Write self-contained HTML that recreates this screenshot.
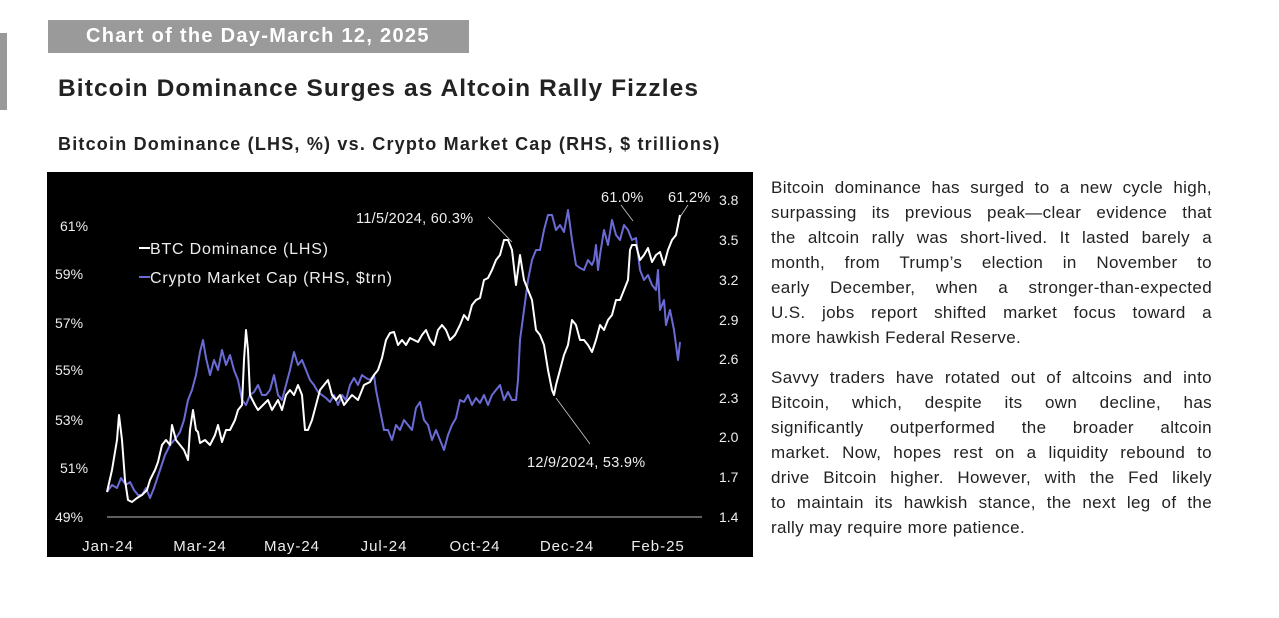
<!DOCTYPE html>
<html><head><meta charset="utf-8"><style>
body{margin:0;width:1279px;height:618px;background:#fff;position:relative;overflow:hidden;font-family:"Liberation Sans",sans-serif;}
.a{position:absolute;}
.tx div{height:25px;line-height:25px;text-align:justify;text-align-last:justify;white-space:nowrap;}
.tx div.l{text-align-last:left;}
</style></head><body>
<div class="a" style="left:0;top:33px;width:7px;height:77px;background:#999;"></div>
<div class="a" style="left:48px;top:20px;width:421px;height:33px;background:#9a9a9a;color:#fff;font-weight:bold;font-size:20px;letter-spacing:1.3px;line-height:33px;padding-left:38px;box-sizing:border-box;white-space:nowrap;">Chart of the Day-March 12, 2025</div>
<div class="a" style="left:58px;top:75px;font-size:24.5px;letter-spacing:1.1px;font-weight:bold;color:#222;white-space:nowrap;">Bitcoin Dominance Surges as Altcoin Rally Fizzles</div>
<div class="a" style="left:58px;top:134px;font-size:18px;letter-spacing:1.2px;font-weight:bold;color:#222;white-space:nowrap;">Bitcoin Dominance (LHS, %) vs. Crypto Market Cap (RHS, $ trillions)</div>
<svg class="a" style="left:47px;top:172px" width="706" height="385" viewBox="47 172 706 385">
<rect x="47" y="172" width="706" height="385" fill="#000"/>
<line x1="107" y1="517" x2="702" y2="517" stroke="#bbb" stroke-width="1"/>
<g fill="#eee" font-family="Liberation Sans" font-size="14">
<text x="60" y="231">61%</text><text x="55" y="279">59%</text><text x="55" y="328">57%</text><text x="55" y="375">55%</text><text x="55" y="425">53%</text><text x="60" y="473">51%</text><text x="55" y="522">49%</text>
<text x="719" y="205">3.8</text><text x="719" y="245">3.5</text><text x="719" y="285">3.2</text><text x="719" y="325">2.9</text><text x="719" y="364">2.6</text><text x="719" y="403">2.3</text><text x="719" y="442">2.0</text><text x="719" y="482">1.7</text><text x="719" y="522">1.4</text>
<g text-anchor="middle" font-size="15" letter-spacing="1"><text x="108" y="551">Jan-24</text><text x="200" y="551">Mar-24</text><text x="292" y="551">May-24</text><text x="384" y="551">Jul-24</text><text x="475" y="551">Oct-24</text><text x="567" y="551">Dec-24</text><text x="658" y="551">Feb-25</text></g>
<text x="150" y="254" font-size="16" letter-spacing="0.8">BTC Dominance (LHS)</text>
<text x="150" y="283" font-size="16" letter-spacing="0.8">Crypto Market Cap (RHS, $trn)</text>
<g font-size="14.5" letter-spacing="0.3">
<text x="356" y="223">11/5/2024, 60.3%</text>
<text x="527" y="467">12/9/2024, 53.9%</text>
<text x="601" y="202">61.0%</text>
<text x="668" y="202">61.2%</text></g>
</g>
<line x1="139" y1="248" x2="150" y2="248" stroke="#fff" stroke-width="2"/>
<line x1="139" y1="277" x2="150" y2="277" stroke="#6b6bd6" stroke-width="2"/>
<g stroke="#ccc" stroke-width="0.8"><line x1="488" y1="217" x2="512" y2="242"/><line x1="556" y1="398" x2="590" y2="444"/><line x1="621" y1="205" x2="633" y2="221"/><line x1="688" y1="205" x2="680" y2="217"/></g>
<polyline fill="none" stroke="#6b6bd6" stroke-width="2" stroke-linejoin="round" points="107,492 112,485 117,488 121,478 126,485 130,482 134,490 138,495 142,495 146,488 150,498 154,488 160,470 165,455 170,445 176,438 180,432 184,420 188,400 192,390 196,375 200,352 203,340 206,358 210,375 214,360 218,370 222,350 226,365 230,355 234,370 238,380 242,400 246,405 250,395 254,392 258,385 262,395 266,395 270,390 274,375 278,395 282,400 286,385 290,370 294,352 298,365 302,360 306,370 310,380 314,385 318,392 322,395 326,398 330,402 334,395 338,405 342,395 346,400 350,385 354,378 358,385 362,375 366,378 370,380 374,375 376,390 380,410 384,430 388,430 392,440 396,425 400,430 404,420 408,425 412,430 416,408 420,402 424,420 428,425 432,440 436,430 440,440 444,450 448,435 452,425 456,418 460,400 464,402 468,395 472,405 476,398 480,403 484,395 488,405 492,395 496,390 500,385 504,400 508,392 512,400 516,400 518,380 520,340 524,310 528,280 532,260 536,250 540,250 544,230 548,215 552,215 556,230 560,225 564,232 568,210 572,240 576,265 580,268 584,270 588,260 592,265 594,260 596,245 598,270 600,255 604,230 608,245 612,220 616,235 620,240 624,225 628,230 632,240 636,238 640,270 644,280 648,275 652,285 656,290 658,270 660,310 664,300 666,325 670,310 674,330 678,360 680,342"/>
<polyline fill="none" stroke="#fff" stroke-width="2" stroke-linejoin="round" points="107,492 112,470 117,440 119,415 122,440 125,480 128,500 132,502 137,498 142,495 147,490 150,480 155,470 158,462 162,445 166,440 170,445 172,425 176,440 180,445 184,450 188,460 190,430 193,410 196,430 198,432 200,443 205,440 210,445 215,435 218,425 222,442 226,430 230,430 235,420 238,410 242,405 244,360 246,330 248,350 250,395 255,405 258,410 263,405 268,400 272,410 278,400 282,410 286,395 290,390 294,395 298,385 302,395 305,430 308,430 312,420 316,405 320,390 324,385 328,380 332,395 336,400 340,395 344,405 348,400 352,395 358,400 364,385 370,382 374,375 378,370 382,358 386,340 390,333 394,332 398,345 402,340 406,345 410,338 414,340 418,342 422,335 426,330 430,340 434,345 438,330 442,325 446,330 450,340 455,335 460,325 464,315 468,320 472,305 476,300 480,298 484,280 488,278 492,270 496,260 500,255 504,240 508,240 512,250 516,285 520,255 524,280 528,290 532,300 536,330 540,335 544,345 548,370 552,390 554,395 556,385 560,370 564,355 568,345 572,320 576,325 580,340 584,340 588,345 592,352 596,340 600,325 604,330 608,320 612,315 616,300 620,300 624,290 628,280 630,250 632,245 636,245 640,260 644,255 648,248 652,262 656,255 660,252 664,265 668,250 672,240 676,235 680,215"/>
</svg>
<div class="a tx" style="left:771px;top:175px;width:441px;font-size:17px;letter-spacing:0.35px;color:#222;">
<div>Bitcoin dominance has surged to a new cycle high,</div>
<div>surpassing its previous peak—clear evidence that</div>
<div>the altcoin rally was short-lived. It lasted barely a</div>
<div>month, from Trump’s election in November to</div>
<div>early December, when a stronger-than-expected</div>
<div>U.S. jobs report shifted market focus toward a</div>
<div class="l">more hawkish Federal Reserve.</div>
<div style="height:15px"></div>
<div>Savvy traders have rotated out of altcoins and into</div>
<div>Bitcoin, which, despite its own decline, has</div>
<div>significantly outperformed the broader altcoin</div>
<div>market. Now, hopes rest on a liquidity rebound to</div>
<div>drive Bitcoin higher. However, with the Fed likely</div>
<div>to maintain its hawkish stance, the next leg of the</div>
<div class="l">rally may require more patience.</div>
</div>
</body></html>
